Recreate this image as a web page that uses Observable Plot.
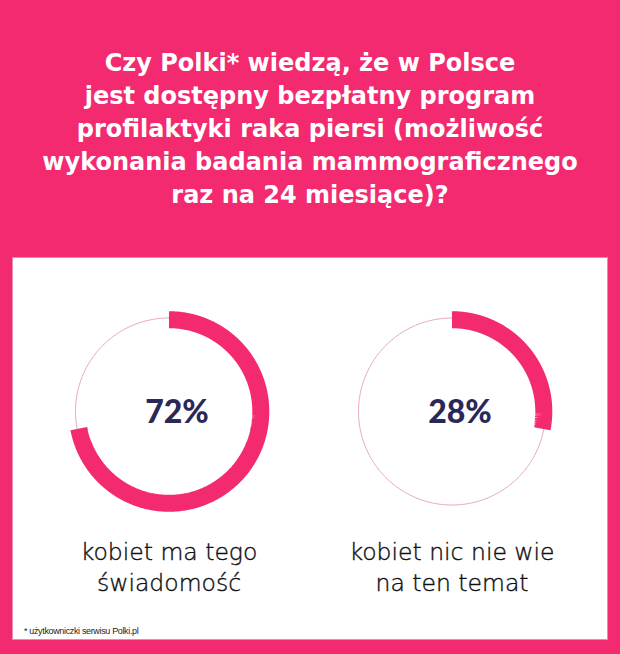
<!DOCTYPE html>
<html>
<head>
<meta charset="utf-8">
<script src="https://cdn.jsdelivr.net/npm/d3@7"></script>
<script src="https://cdn.jsdelivr.net/npm/@observablehq/plot@0.6"></script>
<style>
  html, body { margin: 0; padding: 0; }
  body { width: 620px; height: 654px; background: #f32a6f; position: relative; overflow: hidden; }
  #title { position: absolute; left: 0; top: 47px; width: 620px; text-align: center; color: #fff;
    font-family: "DejaVu Sans", sans-serif; font-weight: bold; font-size: 24px; line-height: 33px; }
  #panel { position: absolute; left: 12px; top: 257px; width: 596px; height: 383px; background: #fff;
    border: 1px solid #e58fae; box-sizing: border-box; }
  #chart { position: absolute; left: 0; top: 0; }
  #note { position: absolute; left: 11px; top: 368px; font-family: "Liberation Sans", sans-serif;
    font-size: 9px; letter-spacing: -0.35px; color: #222; }
</style>
</head>
<body>
<div id="title">Czy Polki* wiedzą, że w Polsce<br>jest dostępny bezpłatny program<br>profilaktyki raka piersi (możliwość<br>wykonania badania mammograficznego<br>raz na 24 miesiące)?</div>
<div id="panel">
  <div id="chart"></div>
  <div id="note">* użytkowniczki serwisu Polki.pl</div>
</div>
<script>
// Data
const categories = ["kobiet ma tego\nświadomość", "kobiet nic nie wie\nna ten temat"];
const values = [72, 28];
const valueLabels = ["72%", "28%"];

// Build arc geometry from values (clockwise from 12 o'clock)
function arcPoints(cat, pct, r, steps) {
  const pts = [];
  for (let i = 0; i <= steps; i++) {
    const a = 2 * Math.PI * (pct / 100) * (i / steps);
    pts.push({cat, x: r * Math.sin(a), y: r * Math.cos(a)});
  }
  return pts;
}
const ringData = categories.flatMap(c => arcPoints(c, 100, 0.935, 360));
const arcData = categories.flatMap((c, i) => arcPoints(c, values[i], 0.918, 360));
const labelData = categories.map((c, i) => ({cat: c, label: valueLabels[i], text: c}));

const chart = Plot.plot({
  width: 594,
  height: 345,
  marginLeft: 13.5,
  marginRight: 14.5,
  marginTop: 0,
  marginBottom: 0,
  fx: {domain: categories, padding: 0, axis: null},
  x: {domain: [-1.415, 1.415], axis: null},
  y: {domain: [-1.92, 1.53], axis: null},
  style: {background: "transparent", overflow: "visible"},
  marks: [
    Plot.line(ringData, {fx: "cat", x: "x", y: "y", stroke: "#e9a7bf", strokeWidth: 1}),
    Plot.line(arcData, {fx: "cat", x: "x", y: "y", z: "cat", stroke: "#f32a6f", strokeWidth: 17, strokeLinecap: "butt", strokeLinejoin: "miter"}),
    Plot.text(labelData, {fx: "cat", x: () => 0, y: () => 0, text: "label", dx: 8, dy: 1,
      fontFamily: "Lato", fontWeight: 900, fontSize: 32, fill: "#2b2857"}),
    Plot.text(labelData, {fx: "cat", x: () => 0, y: () => -1.538, text: "text", lineHeight: 1.32,
      fontFamily: "DejaVu Sans", fontWeight: 200, fontSize: 23.5, fill: "#111", stroke: "#111", strokeWidth: 0.4})
  ]
});
document.getElementById("chart").appendChild(chart);
</script>
</body>
</html>
